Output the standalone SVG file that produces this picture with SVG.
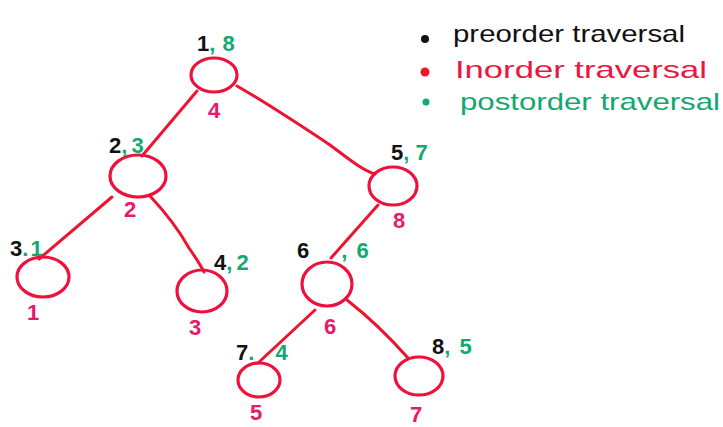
<svg xmlns="http://www.w3.org/2000/svg" width="723" height="427" viewBox="0 0 723 427">
<style>
.n{fill:none;stroke:#f0103c;stroke-width:3.2}
.e{fill:none;stroke:#ee1430;stroke-width:3;stroke-linecap:round}
text{font-family:"Liberation Sans","DejaVu Sans",sans-serif;font-size:22px;font-weight:bold}
.k{fill:#111}
.g{fill:#12a870}
.p{fill:#e8186a}
.r{fill:#ec1640}
.lg{font-size:24px;font-weight:normal}
</style>
<rect width="723" height="427" fill="#fff"/>
<g id="connectors">
<path class="e" d="M197,91 L142,156"/>
<path class="e" d="M237,86 C270,105 300,125 330,145 C350,160 362,170 375,174"/>
<path class="e" d="M112,197 L39,259"/>
<path class="e" d="M150,196 C165,212 180,232 189,248 C196,258 201,266 204,272"/>
<path class="e" d="M378,205 L331,258"/>
<path class="e" d="M315,310 L258,363"/>
<path class="e" d="M347,300 C370,318 392,340 408,358"/>
</g>
<g id="node1">
<ellipse class="n" cx="214" cy="75" rx="23" ry="17"/>
<text x="197" y="51"><tspan class="k">1</tspan><tspan class="g">,</tspan><tspan class="g" dx="7">8</tspan></text>
<text class="p" x="208" y="118">4</text>
</g>
<g id="node2">
<ellipse class="n" cx="138" cy="176" rx="28" ry="21"/>
<text x="109" y="153"><tspan class="k">2</tspan><tspan class="g">,</tspan><tspan class="g" dx="4">3</tspan></text>
<text class="p" x="124" y="217">2</text>
</g>
<g id="node3">
<ellipse class="n" cx="43" cy="277" rx="26" ry="20"/>
<text x="10" y="256"><tspan class="k">3</tspan><tspan class="g">.</tspan><tspan class="g" dx="2">1</tspan></text>
<text class="p" x="27" y="320">1</text>
</g>
<g id="node4">
<ellipse class="n" cx="202" cy="291" rx="25" ry="21"/>
<text x="214" y="270"><tspan class="k">4</tspan><tspan class="g">,</tspan><tspan class="g" dx="4">2</tspan></text>
<text class="p" x="189" y="335">3</text>
</g>
<g id="node5">
<ellipse class="n" cx="393" cy="186" rx="24" ry="19"/>
<text x="391" y="160"><tspan class="k">5</tspan><tspan class="g">,</tspan><tspan class="g" dx="6">7</tspan></text>
<text class="p" x="393" y="228">8</text>
</g>
<g id="node6">
<ellipse class="n" cx="327" cy="284" rx="25" ry="22"/>
<text x="297" y="258"><tspan class="k">6</tspan><tspan class="g" dx="32">,</tspan><tspan class="g" dx="9">6</tspan></text>
<text class="p" x="324" y="334">6</text>
</g>
<g id="node7">
<ellipse class="n" cx="259" cy="380" rx="21" ry="17"/>
<text x="236" y="360"><tspan class="k">7</tspan><tspan class="g">.</tspan><tspan class="g" dx="21">4</tspan></text>
<text class="p" x="250" y="420">5</text>
</g>
<g id="node8">
<ellipse class="n" cx="419" cy="376" rx="24" ry="19"/>
<text x="432" y="354"><tspan class="k">8</tspan><tspan class="g">,</tspan><tspan class="g" dx="9">5</tspan></text>
<text class="p" x="410" y="422">7</text>
</g>
<g id="legend">
<circle cx="425" cy="39" r="4" fill="#111"/>
<circle cx="425" cy="72" r="4.5" fill="#ec1628"/>
<circle cx="426" cy="102" r="3.5" fill="#12a870"/>
<text class="lg k" x="453" y="42" textLength="232" lengthAdjust="spacingAndGlyphs">preorder traversal</text>
<text class="lg r" x="455" y="78" textLength="252" lengthAdjust="spacingAndGlyphs">Inorder traversal</text>
<text class="lg g" x="460" y="110" textLength="260" lengthAdjust="spacingAndGlyphs">postorder traversal</text>
</g>
</svg>
